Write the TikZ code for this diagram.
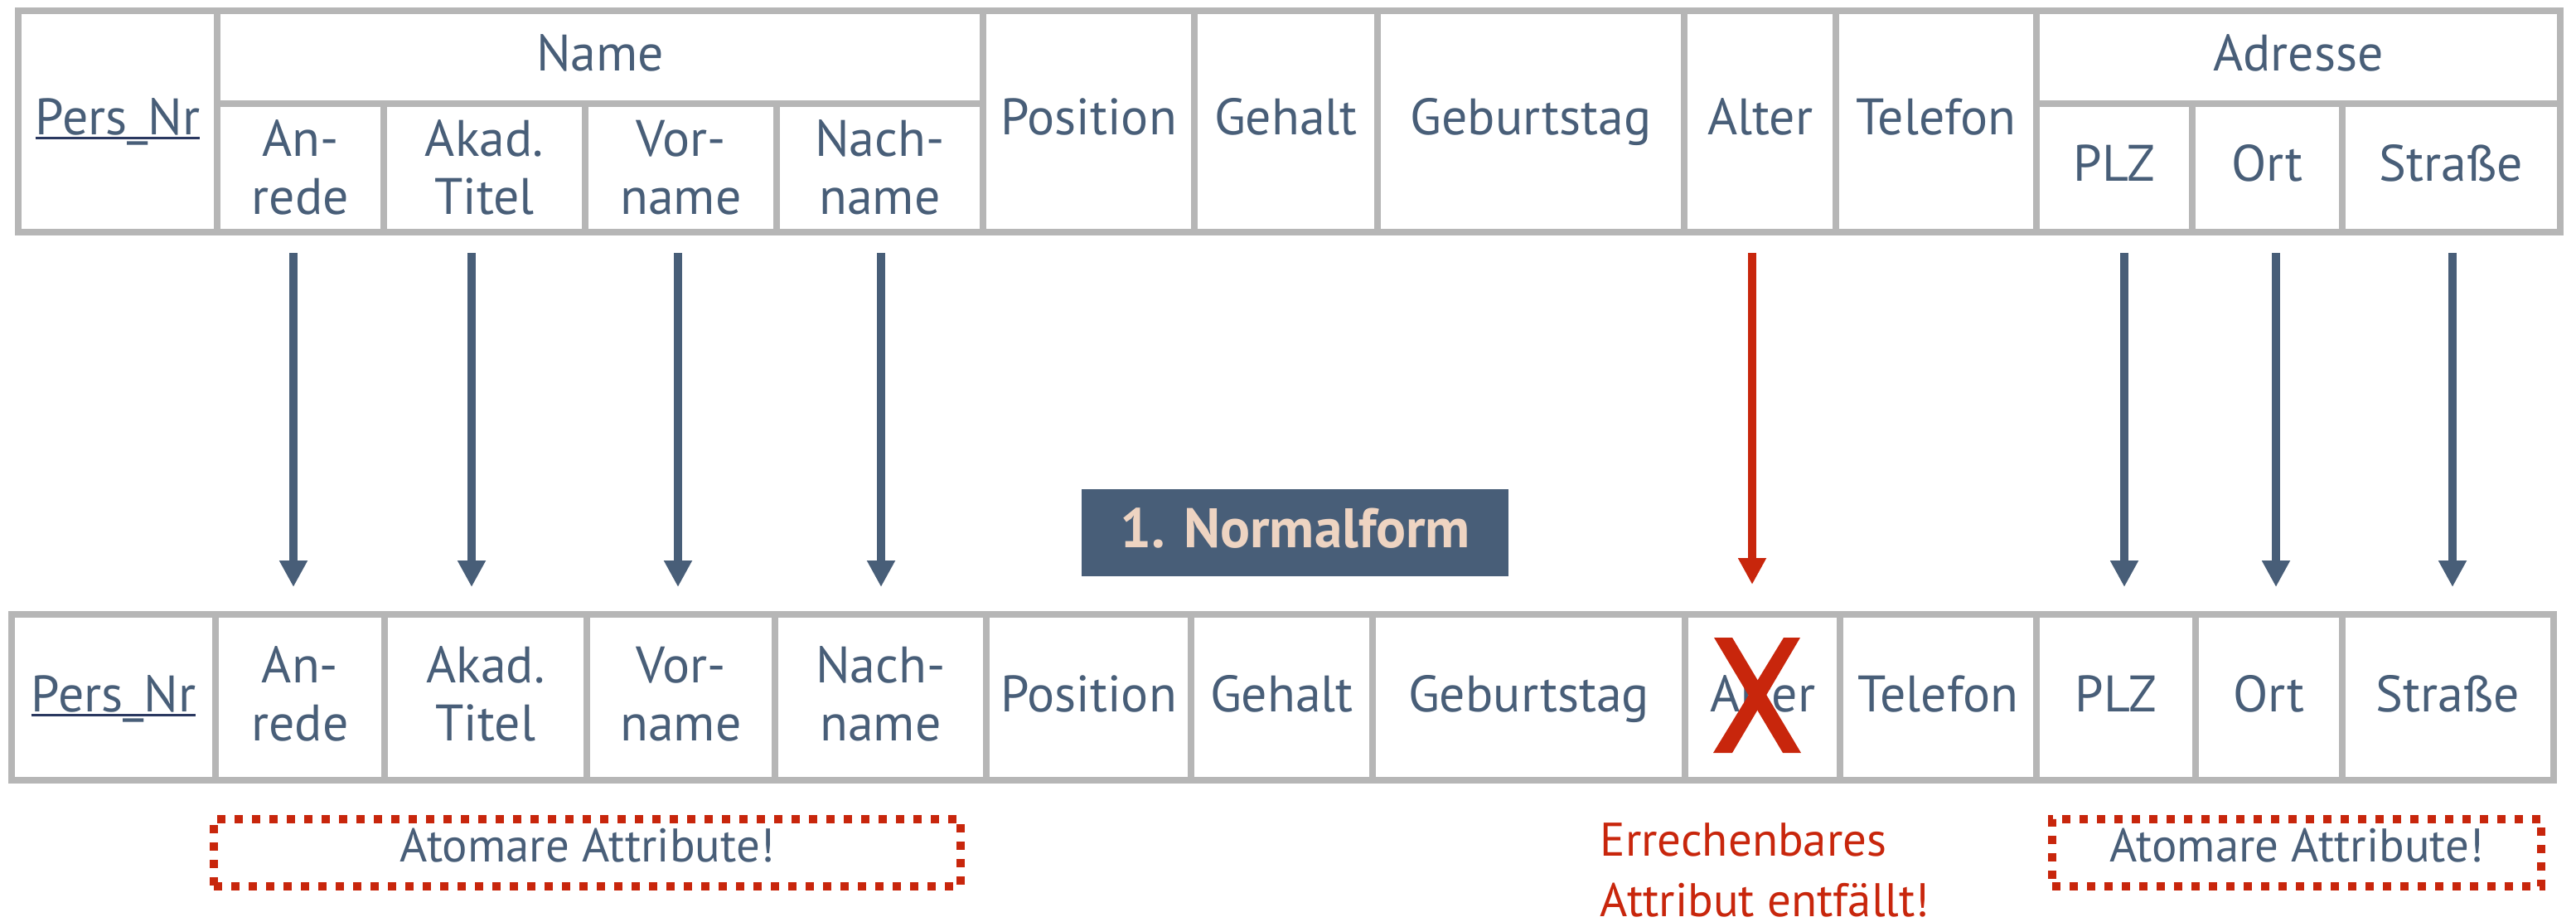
\documentclass[tikz,border=0pt]{standalone}
\usepackage{fontspec}
\setmainfont{PT Sans}
\usetikzlibrary{arrows.meta}

\definecolor{txtblue}{RGB}{72,94,120}
\definecolor{gridgray}{RGB}{182,182,182}
\definecolor{alertred}{RGB}{200,38,12}
\definecolor{peach}{RGB}{238,212,194}
\definecolor{keyline}{RGB}{42,56,96}

\newcommand{\tabfont}{\fontsize{17.6pt}{19.9pt}\selectfont}
\newcommand{\notefont}{\fontsize{16.2pt}{20.5pt}\selectfont}
\newcommand{\bannerfont}{\fontsize{19.1pt}{22pt}\selectfont\bfseries}

% primary key: text with a dark rule just under the baseline
\newsavebox{\keybox}
\newcommand{\keyattr}[1]{\sbox{\keybox}{#1}\rlap{\color{keyline}\rule[-0.06cm]{\wd\keybox}{0.03cm}}\usebox{\keybox}}

\tikzset{
  grid/.style={draw=gridgray, line width=0.08cm, line join=miter},
  % base anchor of a two-line text is the baseline of its last line
  celltext/.style={text=txtblue, font=\tabfont, inner sep=0pt, anchor=base, align=center},
  bluearrow/.style={draw=txtblue, line width=0.1cm, -{Triangle[length=0.32cm,width=0.32cm]}},
  redarrow/.style={draw=alertred, line width=0.1cm, -{Triangle[length=0.32cm,width=0.32cm]}},
  dotbox/.style={draw=alertred, line width=0.1cm, dash pattern=on 0.1cm off 0.11cm,
    text=txtblue, font=\notefont, inner sep=0pt, text height=0.39cm, text depth=0.18cm},
  banner/.style={fill=txtblue, text=peach, font=\bannerfont, inner sep=0pt,
    text height=0.47cm, text depth=0.12cm},
  rednote/.style={text=alertred, font=\notefont, inner sep=0pt, anchor=base west, align=left},
}

\begin{document}
\begin{tikzpicture}
\useasboundingbox (0,0) rectangle (31.08,-11.11);

% ---------- unnormalised relation ----------
\draw[grid] (0.22,-0.13) rectangle (30.89,-2.80);
\draw[grid] (2.62,-1.25) -- (11.86,-1.25);
\draw[grid] (24.57,-1.25) -- (30.89,-1.25);
\foreach \x in {2.62,11.86,14.41,16.62,20.32,22.15,24.57}
  \draw[grid] (\x,-0.13) -- (\x,-2.80);
\foreach \x in {4.63,7.06,9.37,26.45,28.26}
  \draw[grid] (\x,-1.25) -- (\x,-2.80);

\node[celltext] (tPers) at (1.42,-1.62) {\keyattr{Pers\_Nr}};
\node[celltext] (tName) at (7.24,-0.85) {Name};
\node[celltext] (tAnrede) at (3.625,-2.58) {An-\\rede};
\node[celltext] (tTitel) at (5.845,-2.58) {Akad.\\Titel};
\node[celltext] (tVorname) at (8.215,-2.58) {Vor-\\name};
\node[celltext] (tNachname) at (10.615,-2.58) {Nach-\\name};
\node[celltext] (tPosition) at (13.135,-1.62) {Position};
\node[celltext] (tGehalt) at (15.515,-1.62) {Gehalt};
\node[celltext] (tGeburtstag) at (18.47,-1.62) {Geburtstag};
\node[celltext] (tAlter) at (21.235,-1.62) {Alter};
\node[celltext] (tTelefon) at (23.36,-1.62) {Telefon};
\node[celltext] (tAdresse) at (27.73,-0.85) {Adresse};
\node[celltext] (tPLZ) at (25.51,-2.18) {PLZ};
\node[celltext] (tOrt) at (27.355,-2.18) {Ort};
\node[celltext] (tStrasse) at (29.575,-2.18) {Straße};

% ---------- relation in first normal form ----------
\draw[grid] (0.14,-7.41) rectangle (30.81,-9.41);
\foreach \x in {2.60,4.64,7.08,9.35,11.90,14.37,16.56,20.33,22.20,24.57,26.49,28.26}
  \draw[grid] (\x,-7.41) -- (\x,-9.41);

\node[celltext] (bPers) at (1.37,-8.58) {\keyattr{Pers\_Nr}};
\node[celltext] (bAnrede) at (3.62,-8.93) {An-\\rede};
\node[celltext] (bTitel) at (5.86,-8.93) {Akad.\\Titel};
\node[celltext] (bVorname) at (8.215,-8.93) {Vor-\\name};
\node[celltext] (bNachname) at (10.625,-8.93) {Nach-\\name};
\node[celltext] (bPosition) at (13.135,-8.58) {Position};
\node[celltext] (bGehalt) at (15.465,-8.58) {Gehalt};
\node[celltext] (bGeburtstag) at (18.445,-8.58) {Geburtstag};
\node[celltext] (bAlter) at (21.265,-8.58) {Alter};
\node[celltext] (bTelefon) at (23.385,-8.58) {Telefon};
\node[celltext] (bPLZ) at (25.53,-8.58) {PLZ};
\node[celltext] (bOrt) at (27.375,-8.58) {Ort};
\node[celltext] (bStrasse) at (29.535,-8.58) {Straße};

% crossed-out derived attribute
\fill[alertred] (20.68,-7.69) -- (20.90,-7.69) -- (21.73,-9.08) -- (21.51,-9.08) -- cycle;
\fill[alertred] (21.52,-7.69) -- (21.72,-7.69) -- (20.90,-9.08) -- (20.67,-9.08) -- cycle;

% ---------- decomposition arrows ----------
\coordinate (anS) at (3.54,-3.05);   \coordinate (anE) at (3.54,-7.08);
\coordinate (tiS) at (5.69,-3.05);   \coordinate (tiE) at (5.69,-7.08);
\coordinate (voS) at (8.18,-3.05);   \coordinate (voE) at (8.18,-7.08);
\coordinate (naS) at (10.63,-3.05);  \coordinate (naE) at (10.63,-7.08);
\coordinate (alS) at (21.14,-3.05);  \coordinate (alE) at (21.14,-7.05);
\coordinate (plS) at (25.63,-3.05);  \coordinate (plE) at (25.63,-7.08);
\coordinate (orS) at (27.46,-3.05);  \coordinate (orE) at (27.46,-7.08);
\coordinate (stS) at (29.59,-3.05);  \coordinate (stE) at (29.59,-7.08);

\draw[bluearrow] (anS) -- (anE);
\draw[bluearrow] (tiS) -- (tiE);
\draw[bluearrow] (voS) -- (voE);
\draw[bluearrow] (naS) -- (naE);
\draw[redarrow]  (alS) -- (alE);
\draw[bluearrow] (plS) -- (plE);
\draw[bluearrow] (orS) -- (orE);
\draw[bluearrow] (stS) -- (stE);

% ---------- labels ----------
\node[banner, minimum width=5.15cm, minimum height=1.05cm] (nf) at (15.625,-6.425) {1. Normalform};

\node[dotbox, minimum width=9.01cm, minimum height=0.81cm] (atomName) at (7.085,-10.285) {Atomare Attribute!};
\node[dotbox, minimum width=5.90cm, minimum height=0.81cm] (atomAddr) at (27.71,-10.285) {Atomare Attribute!};

\node[rednote] (derived) at (19.30,-11.05) {Errechenbares\\Attribut entfällt!};
\end{tikzpicture}
\end{document}
